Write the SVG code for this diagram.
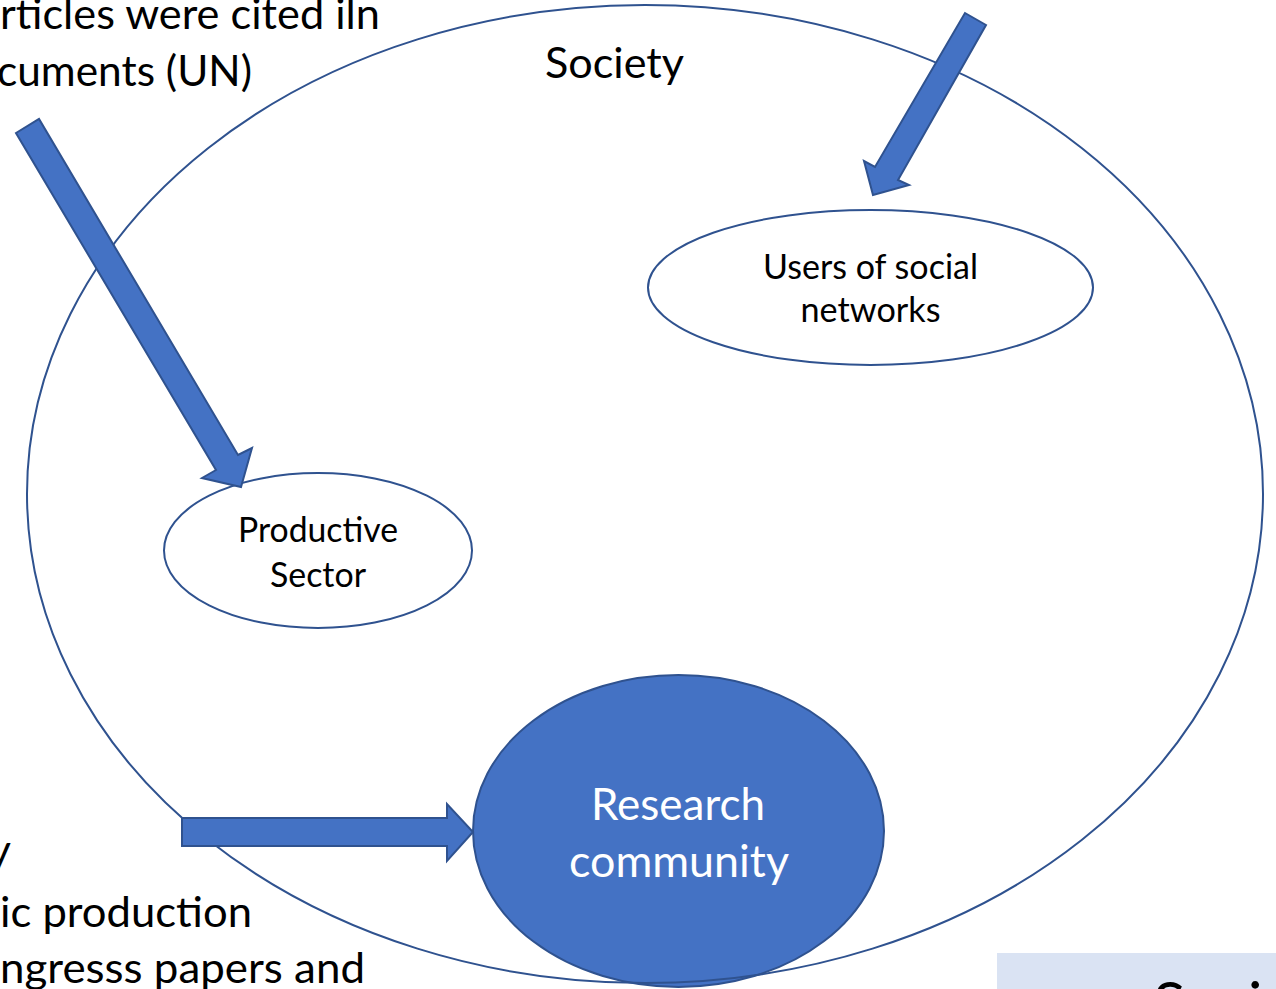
<svg xmlns="http://www.w3.org/2000/svg" width="1276" height="989" viewBox="0 0 1276 989">
<style>
.txt{font-family:Lato,"Open Sans","Liberation Sans",sans-serif;fill:#000}
.big{font-size:43px}
.node{font-size:34px;text-anchor:middle}
.white{fill:#fff;font-size:44px;text-anchor:middle}
.outline{fill:none;stroke:#2F528F;stroke-width:2}
.oval{fill:#fff;stroke:#2F528F;stroke-width:2}
.blue{fill:#4472C4;stroke:#2F528F;stroke-width:2}
.arrow{fill:#4472C4;stroke:#2F528F;stroke-width:2;stroke-linejoin:miter}
</style>
<rect width="1276" height="989" fill="#fff"/>

<g id="research-community">
<ellipse class="blue" cx="678.5" cy="831" rx="205.5" ry="156"/>
</g>

<g id="society">
<ellipse class="outline" cx="645" cy="494" rx="618" ry="489"/>
<text class="txt big" x="545" y="78" textLength="139" lengthAdjust="spacingAndGlyphs">Society</text>
</g>

<g id="productive-sector">
<ellipse class="oval" cx="318" cy="550.5" rx="154" ry="77.5"/>
<text class="txt node" x="318" y="542" textLength="160" lengthAdjust="spacingAndGlyphs">Productive</text>
<text class="txt node" x="318" y="587" textLength="96" lengthAdjust="spacingAndGlyphs">Sector</text>
</g>

<g id="users-social-networks">
<ellipse class="oval" cx="870.5" cy="287.5" rx="222.5" ry="77.5"/>
<text class="txt node" x="870.5" y="279" textLength="215" lengthAdjust="spacingAndGlyphs">Users of social</text>
<text class="txt node" x="870.5" y="322" textLength="140" lengthAdjust="spacingAndGlyphs">networks</text>
</g>

<g id="connectors">
<polygon class="arrow" points="16,133 39,119 238,455 252,448 241,487 202,478 216,470"/>
<polygon class="arrow" points="965,13 986,25 898,180 909,185 873,195 864,161 875,167"/>
<polygon class="arrow" points="182,818 447,818 447,804 473,832 447,861 447,846 182,846"/>
</g>

<g id="research-label">
<text class="txt white" x="678" y="820" textLength="174" lengthAdjust="spacingAndGlyphs">Research</text>
<text class="txt white" x="679" y="877" textLength="220" lengthAdjust="spacingAndGlyphs">community</text>
</g>

<g id="top-left-text">
<text class="txt big" x="0" y="29" textLength="380" lengthAdjust="spacingAndGlyphs">rticles were cited iln</text>
<text class="txt big" x="-3" y="86" textLength="255" lengthAdjust="spacingAndGlyphs">cuments (UN)</text>
</g>

<g id="bottom-left-text">
<text class="txt big" x="11" y="865" text-anchor="end">y</text>
<text class="txt big" x="0" y="927" textLength="252" lengthAdjust="spacingAndGlyphs">ic production</text>
<text class="txt big" x="0" y="983" textLength="365" lengthAdjust="spacingAndGlyphs">ngresss papers and</text>
</g>

<g id="bottom-right-box">
<rect x="997" y="953" width="279" height="36" fill="#DAE3F3"/>
<text class="txt" x="1153" y="1025" font-size="60">Soci</text>
</g>
</svg>
